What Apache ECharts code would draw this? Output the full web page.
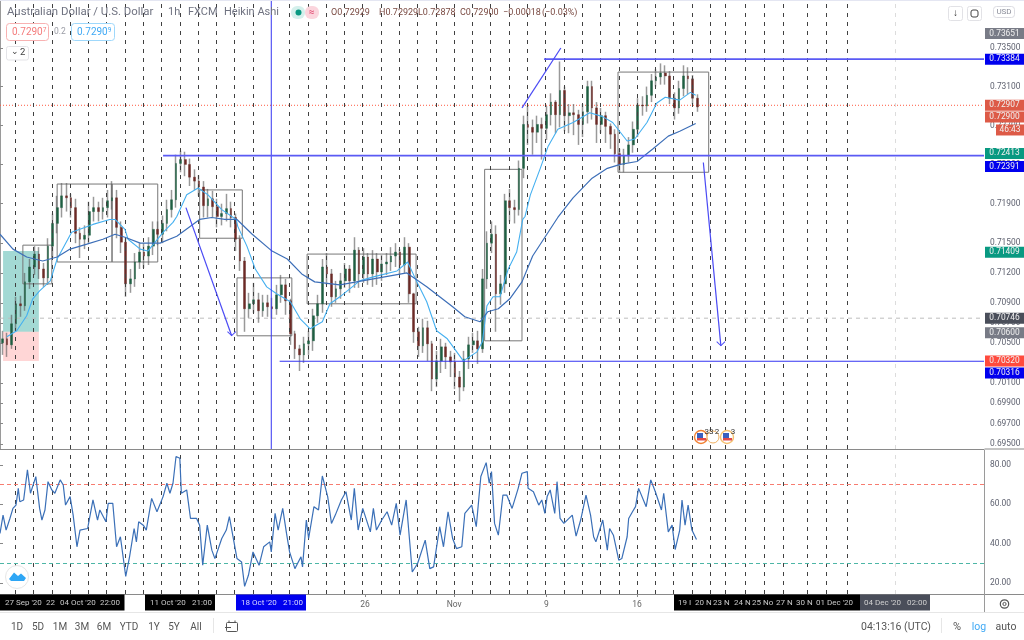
<!DOCTYPE html>
<html><head><meta charset="utf-8">
<style>html,body{margin:0;padding:0;background:#fff}#c{width:1024px;height:640px}</style>
<script src="https://cdn.jsdelivr.net/npm/echarts@6/dist/echarts.min.js"></script>
</head><body><div id="c"></div>
<script>
// ---------- price data: one candle per 6 hourly bars, in 1/10000 USD ----------
const closes=[7054,7048,7069,7089,7087,7111,7126,7139,7124,7115,7147,7170,7186,7198,7196,7186,7160,7154,7158,7182,7186,7182,7186,7193,7196,7166,7151,7109,7114,7131,7141,7137,7147,7164,7159,7170,7184,7194,7231,7235,7230,7217,7213,7207,7188,7195,7187,7177,7180,7185,7176,7154,7132,7084,7089,7093,7082,7090,7086,7084,7098,7108,7092,7059,7044,7038,7049,7052,7077,7089,7126,7119,7096,7104,7112,7124,7112,7143,7119,7136,7119,7134,7121,7129,7131,7137,7141,7128,7146,7099,7061,7047,7065,7049,7014,7032,7046,7036,7031,7016,7006,7034,7048,7052,7044,7114,7150,7159,7099,7109,7193,7186,7184,7226,7271,7268,7263,7271,7267,7281,7294,7281,7306,7280,7283,7281,7271,7284,7310,7288,7271,7280,7269,7261,7241,7230,7239,7250,7266,7291,7290,7301,7316,7320,7324,7321,7298,7288,7308,7321,7318,7298,7289];
const highs=[7062,7060,7078,7096,7097,7120,7134,7147,7146,7130,7155,7180,7198,7211,7211,7200,7195,7166,7168,7192,7197,7192,7196,7204,7213,7204,7172,7155,7124,7140,7150,7150,7156,7172,7172,7178,7194,7204,7240,7244,7243,7236,7225,7219,7213,7205,7203,7195,7190,7200,7192,7180,7158,7136,7100,7110,7100,7098,7098,7095,7108,7118,7114,7094,7062,7048,7056,7062,7084,7098,7134,7140,7124,7112,7120,7130,7128,7156,7146,7145,7140,7143,7140,7138,7140,7146,7150,7144,7156,7150,7100,7066,7074,7072,7052,7042,7054,7050,7042,7040,7022,7042,7056,7060,7062,7124,7162,7172,7168,7118,7200,7205,7194,7234,7280,7290,7276,7280,7278,7290,7303,7296,7336,7310,7292,7292,7286,7292,7316,7316,7294,7288,7284,7272,7266,7246,7246,7258,7274,7298,7300,7310,7323,7328,7334,7332,7326,7304,7316,7332,7330,7322,7302];
const lows=[7038,7036,7044,7062,7076,7082,7104,7118,7114,7106,7108,7136,7160,7176,7182,7176,7150,7135,7144,7150,7172,7172,7174,7176,7184,7155,7140,7096,7100,7106,7124,7125,7128,7138,7148,7150,7162,7176,7186,7222,7218,7208,7204,7198,7176,7176,7176,7166,7168,7172,7166,7142,7122,7061,7075,7080,7070,7076,7076,7074,7078,7090,7078,7048,7034,7022,7030,7038,7042,7070,7080,7108,7086,7090,7094,7105,7100,7105,7105,7110,7108,7106,7108,7112,7118,7122,7126,7118,7120,7090,7050,7036,7040,7032,7002,7006,7020,7024,7016,7004,6992,7002,7024,7040,7029,7040,7104,7140,7061,7088,7100,7172,7170,7178,7216,7250,7240,7252,7235,7255,7270,7262,7268,7264,7262,7260,7250,7258,7272,7276,7252,7262,7252,7246,7232,7222,7222,7232,7242,7258,7280,7284,7294,7310,7312,7312,7292,7276,7282,7300,7302,7292,7284];
const candleBars=6;

const fastBars=[9,22,35,43,52,66,75,94,122,144,151,164,168,184,194,214,227,232,245,260,273,291,310,312,324,335,350,363,381,394,407,423,433,446,472,490,521,535,547,560,573,587,608,626,633,639,647,656,667,678,686,689,696,709,719,732,752,774,791,804,823,833,849,862,873,892,906,913];
const fastVals=[7056,7062,7077,7094,7102,7112,7134,7161,7169,7174,7174,7164,7154,7144,7142,7161,7171,7177,7199,7206,7199,7184,7174,7167,7147,7124,7106,7099,7091,7074,7064,7071,7089,7096,7112,7116,7122,7131,7111,7091,7062,7054,7032,7041,7051,7087,7096,7096,7124,7141,7174,7177,7199,7226,7248,7266,7273,7283,7279,7273,7254,7256,7273,7293,7299,7296,7304,7301];
const slowBars=[0,17,35,56,75,92,114,135,151,164,184,210,232,262,278,295,311,331,357,377,396,413,446,490,534,560,594,610,630,640,654,669,685,699,732,752,777,797,814,836,857,877,892,913];
const slowVals=[7159,7144,7136,7132,7136,7144,7149,7154,7159,7156,7150,7150,7157,7174,7176,7174,7174,7159,7142,7134,7119,7111,7108,7114,7120,7106,7086,7076,7071,7081,7084,7094,7111,7137,7176,7196,7216,7226,7230,7233,7246,7259,7264,7272];

// ---------- RSI pane ----------
const rsiBars=[0,4,8,13,17,21,24,26,31,36,40,47,52,55,59,63,68,72,79,83,86,92,96,101,105,115,122,128,131,139,142,148,153,158,165,170,176,179,182,188,192,199,206,214,219,223,227,231,236,238,245,250,258,262,266,272,278,282,291,297,301,306,311,317,321,326,332,340,346,354,356,361,365,371,376,380,387,395,397,402,405,412,418,423,430,435,440,448,454,461,465,470,476,486,490,494,501,508,514,520,525,533,541,548,558,564,569,577,582,588,594,599,606,610,619,625,631,638,642,645,649,654,660,665,672,680,685,692,693,700,707,711,715,718,722,728,731,735,740,751,756,762,769,775,779,782,791,797,800,805,812,816,823,825,830,834,838,848,854,860,868,871,877,882,886,892,895,899,903,908,914];
const rsiVals=[45.2,54.5,46.9,52.8,57.9,59.6,68.1,61.3,62.2,77.5,65.6,74.1,57.9,52,57.1,71.5,67.3,65.6,72.4,69.8,59.6,63.9,54.5,38.4,46.9,47.7,62.2,52,57.1,51.1,60.5,60.5,38.4,43.5,23.4,33.3,47.7,40.9,51.1,49.4,46.9,63,56.2,63.9,70.7,65.6,70.7,84.3,83.4,65.6,67.3,52.8,52.8,49.4,29,49.4,36.7,32.4,42.6,46.9,53.7,43.1,32.4,30.7,18.3,23.9,35.8,29,38.4,40.9,35.8,55.4,46.9,57.9,45.2,35.8,27.3,33.3,28.2,52,42.6,58.8,57.1,74.4,63.9,50.3,54.5,62.2,66.4,52,68.1,46.9,57.9,46,57.9,46.9,52,56.2,49.4,60.5,44.3,62.2,25.6,29.9,41.8,27.3,28.2,48.6,38.4,56.2,42.6,37.5,38.4,55.4,59.6,48.6,74.1,81.2,70.7,76.6,50.3,44.3,64.7,64.7,57.9,68.1,75.8,76.6,68.1,66.4,59.6,62.2,55.4,63.9,67.3,55.4,71.5,52.8,50.3,54.5,43.8,52,64.7,54.5,43.5,40.9,52,36.7,47.7,44.3,31.6,32.4,43.5,52.8,56.2,58.8,68.1,58.8,72.4,66.4,57.1,65.6,46,49.4,37,46.9,62.2,49.4,59.6,46.9,42.1];
const rsiTicks=[20,40,60,80];
const rsiUpper=70, rsiLower=30;

// ---------- axes ----------
const priceTicks=[0.735,0.731,0.727,0.723,0.719,0.715,0.712,0.709,0.707,0.705,0.701,0.699,0.697,0.695];
const dayLineBars=[20,44,68,92,116,140,164,188,212,236,260,284,308,332,380,404,428,452,476,500,524,548,572,596,620,644,668,692,716,740,764,788,812,836,860,884,908,932,952,978,1003,1028,1059,1084,1112];
const fadedDayLineBar=1175, blueVLineBar=356;
const dateTickBars=[479,596,717,836];
const dateTickLabels=['26','Nov','9','16'];

// ---------- drawings: [bar1, price1, bar2, price2] ----------
const boxes=[[30,.7148,68,.7109],[75,.7210,147,.7131],[147,.7210,207,.7131],[262,.7204,318,.7155],[311,.7115,383,.7057],[403,.7139,546,.7089],[636,.7225,685,.7052],[811,.7325,930,.7222]];
const longProfit=[4,.7142,51,.7061], longLoss=[4,.7061,51,.7032];
const hLevels=[[214,.72391],[714,.73384],[367,.70316]];
const arrows=[[244,.7186,304,.7057],[923,.7232,946,.7047]];
const trendLines=[[685,.7288,736,.7350]];
const lastPrice=.72907, sessionPrice=.70746;

// ---------- price tags on the scale ----------
const tagLabels=['0.73651','0.73384','0.72907','0.72900','46:43','0.72413','0.72391','0.71409','0.70746','0.70600','0.70320','0.70316'];
const tagAnchors=[.73651,.73384,.72907,.72787,.72653,.72413,.7228,.71409,.70746,.706,.7032,.7020];
const tagColors=['#787b86','#0000ee','#dd5a47','#dd5a47','#dd5a47','#089981','#0000ee','#089981','#4a4e5a','#787b86','#ff4a3d','#0000ee'];

const axisMaxBar=1291.3;
const yMin=.6945,yMax=.74;
const xSpan={min:0,max:axisMaxBar};

const candleX=i=>i*candleBars+3;
const wickData=closes.map((c,i)=>{const o=i?closes[i-1]:c-4;return [candleX(i),o/1e4,c/1e4,Math.min(lows[i],o,c)/1e4,Math.max(highs[i],o,c)/1e4];});
const bodyData=closes.map((c,i)=>{const o=i?closes[i-1]:c-4;return [candleX(i),o/1e4,c/1e4,Math.min(o,c)/1e4,Math.max(o,c)/1e4];});
const toPairs=(b,v,k)=>b.map((x,i)=>[x,v[i]/k]);
const FONT='Roboto, "Noto Sans", sans-serif';
const dashColor='#404040';

const chart=echarts.init(document.getElementById('c'),null,{renderer:'canvas'});

const T=(x,y,text,fill,size,align,extra)=>({type:'text',x:x,y:y,silent:true,z:60,style:Object.assign({text:text,fill:fill,font:(size||10.5)+'px '+FONT,align:align||'left',verticalAlign:'middle'},extra||{})});
const R=(x,y,w,h,fill,stroke,r,z)=>({type:'rect',silent:true,z:z||49,shape:{x:x,y:y,width:w,height:h,r:r||0},style:{fill:fill||'none',stroke:stroke||'none',lineWidth:1}});
const L=(x1,y1,x2,y2,stroke,w,z)=>({type:'line',silent:true,z:z||48,shape:{x1:x1,y1:y1,x2:x2,y2:y2},style:{stroke:stroke,lineWidth:w||1}});
const C=(cx,cy,r,fill,stroke,w)=>({type:'circle',silent:true,z:51,shape:{cx:cx,cy:cy,r:r},style:{fill:fill||'none',stroke:stroke||'none',lineWidth:w||1}});

const chipText=(x,txt,sup,col)=>({type:'text',x:x,y:32,z:60,silent:true,style:{text:'{a|'+txt+'}{b|'+sup+'}',verticalAlign:'middle',rich:{a:{fill:col,font:'10px '+FONT},b:{fill:col,font:'6.5px '+FONT,verticalAlign:'top',padding:[0,0,4,0]}}}});

const graphics=[
 L(0,0.5,1024,0.5,'#e4e6f2',1),
 L(984.5,449,1024,449,'#8a8a8a',1),
 L(0,594.5,1024,594.5,'#8a8a8a',1),
 L(0,612.5,1024,612.5,'#e6e6e6',1),
 L(984.5,450,984.5,612,'#9a9a9a',1),
 // header
 T(7,12.5,'Australian Dollar / U.S. Dollar','#6f7280',11.4),
 T(168,12.5,'1h','#6f7280',11),T(188,12.5,'FXCM','#6f7280',11),T(224,12.5,'Heikin Ashi','#6f7280',11),
 R(291,6,14,13,'#d5f0ec','none',6),R(305,6,14,13,'#fbd5dd','none',6),
 C(298.5,12.5,3,'#089981'),T(311.5,12.5,'≈','#e0406a',10,'center'),
 T(331,13,'O0.72929','#7a4a42',9),T(379,13,'H0.72929','#7a4a42',9),T(418,13,'L0.72878','#7a4a42',9),T(460,13,'C0.72900','#7a4a42',9),T(503,13,'−0.00018','#7a4a42',9),T(542,13,'(−0.03%)','#7a4a42',9),
 R(6.5,23.5,42,17,'#fff','#f8b2b2',3),
 chipText(12,'0.7290','7','#f47c7c'),
 T(54,32,'0.2','#9a9ca5',8.5),
 R(71.5,23.5,43,17,'#fff','#9fd8fb',3),
 chipText(77,'0.7290','9','#3fa9f5'),
 R(6.5,46.5,22,13.5,'#fff','#e4e4e8',2),
 T(11,52,'⌄','#444',9),T(20,53,'2','#444',9.5),
 // top-right buttons
 R(948.5,6.5,14,14,'#fff','#e2e2e6',2),T(955.5,13.5,'↓','#333',10,'center'),
 R(967.5,6.5,14,14,'#fff','#e2e2e6',2),R(971,10,7,7,'none','#444',2),
 R(993.5,6.5,21,11,'#fff','#dcdce2',3),T(1004,12,'USD','#8a8d99',8,'center'),
 // date chips
 R(0,594.5,124.5,16,'#000'),R(145,594.5,70,16,'#000'),R(236,594.5,70,16,'#0000ee'),R(674,594.5,186,16,'#000'),R(860,594.5,70,16,'#4a4e5a'),
 T(5,603,"27 Sep '20",'#c8c8c8',8),T(46,603,'22','#c8c8c8',8),T(60,603,"04 Oct '20",'#c8c8c8',8),T(100,603,'22:00','#c8c8c8',8),
 T(150,603,"11 Oct '20",'#c8c8c8',8),T(192,603,'21:00','#c8c8c8',8),
 T(241,603,"18 Oct '20",'#d8d8ff',8),T(283,603,'21:00','#d8d8ff',8),
 T(678,603,'19 I','#c8c8c8',8),T(695,603,'20 N','#c8c8c8',8),T(713,603,'23 N','#c8c8c8',8),T(734,603,'24 N','#c8c8c8',8),T(752,603,'25 No','#c8c8c8',8),T(776,603,'27 N','#c8c8c8',8),T(796,603,'30 N','#c8c8c8',8),T(816,603,"01 Dec '20",'#c8c8c8',8),
 T(864,603,"04 Dec '20",'#d0d0d0',8),T(907,603,'02:00','#d0d0d0',8),
 // range toolbar
 T(17,627,'1D','#555',10,'center'),T(38,627,'5D','#555',10,'center'),T(60,627,'1M','#555',10,'center'),T(82,627,'3M','#555',10,'center'),T(104,627,'6M','#555',10,'center'),T(129,627,'YTD','#555',10,'center'),T(154,627,'1Y','#555',10,'center'),T(174,627,'5Y','#555',10,'center'),T(196,627,'All','#555',10,'center'),
 L(213.5,618,213.5,633,'#e6e6e6',1),
 R(226.5,622.5,11,9,'none','#555',1),L(229,620.5,229,623,'#555',1),L(235,620.5,235,623,'#555',1),L(225,627.5,231,627.5,'#555',1,52),
 T(896,627,'04:13:16 (UTC)','#555',10.5,'center'),L(941.5,618,941.5,633,'#e6e6e6',1),
 T(957,627,'%','#555',11,'center'),T(979,627,'log','#3fa9f5',10.5,'center'),T(1006,627,'auto','#555',10.5,'center'),
 // gear
 C(1004.5,604,4.2,'none','#555',1.2),C(1004.5,604,1.6,'none','#555',1),
 // logo
 C(17,577,11.5,'#fff','#e6e6e6',1),
 {type:'polygon',silent:true,z:52,shape:{points:[[9,579],[14,572.5],[18,576],[21,573.5],[26,578],[24,581],[11,581]]},style:{fill:'#2ea6f5'}},
 // event flags
 C(701,437,6.5,'#fff','#f08030',1.4),C(713,437,6,'#fff','#f0b060',1),C(727,437,6.5,'#fff','#f5c070',1.4),
 R(697,433,6,5,'#3a5fbf','none',0,53),R(697,438,9,2.5,'#e04a4a','none',0,53),R(723,433,6,5,'#3a5fbf','none',0,53),R(723,438,9,2.5,'#e04a4a','none',0,53),
 T(709,432,'33','#333',8,'center'),T(717,432,'2','#333',8,'center'),T(733,432,'3','#333',8,'center')
];

const straight=(name,pts,color,width,type,z)=>({name:name,type:'line',xAxisIndex:0,yAxisIndex:0,data:pts,showSymbol:false,symbol:'none',silent:true,z:z,lineStyle:{color:color,width:width,type:type||'solid'}});

const arrowHead='path://M-5,5 L0,0 L5,5 L4.3,5.7 L0,1.4 L-4.3,5.7Z';

const option={
 animation:false,backgroundColor:'#fff',
 grid:[{left:0,top:0,width:984,height:449},{left:0,top:450,width:984,height:144}],
 xAxis:[
  Object.assign({type:'value',gridIndex:0,splitLine:{show:false},axisTick:{show:false},axisLabel:{show:false},axisLine:{show:true,lineStyle:{color:'#8a8a8a'}}},xSpan),
  Object.assign({type:'value',gridIndex:1,splitLine:{show:false},axisLine:{show:false},
   axisTick:{show:true,customValues:dateTickBars,length:3,lineStyle:{color:'#888'}},
   axisLabel:{show:true,customValues:dateTickBars,margin:6,color:'#666',fontSize:8.5,fontFamily:FONT,formatter:v=>dateTickLabels[dateTickBars.indexOf(v)]||''}},xSpan)
 ],
 yAxis:[
  {type:'log',logBase:10,gridIndex:0,position:'right',min:yMin,max:yMax,splitLine:{show:false},
   axisLine:{show:true,lineStyle:{color:'#9a9a9a'}},
   axisTick:{show:true,customValues:priceTicks,length:3,lineStyle:{color:'#888'}},
   axisLabel:{show:true,customValues:priceTicks,margin:6,color:'#5f6270',fontSize:8.4,fontFamily:FONT,formatter:v=>(+v).toFixed(5)}},
  {type:'value',gridIndex:1,position:'right',min:14.4,max:87.6,splitLine:{show:false},
   axisLine:{show:false},
   axisTick:{show:true,customValues:rsiTicks,length:3,lineStyle:{color:'#888'}},
   axisLabel:{show:true,customValues:rsiTicks,margin:6,color:'#5f6270',fontSize:8.4,fontFamily:FONT,formatter:v=>(+v).toFixed(2)}}
 ],
 series:[
  {type:'line',xAxisIndex:0,yAxisIndex:0,data:[],silent:true,z:1,
   markArea:{silent:true,data:[
     [{coord:[longProfit[0],longProfit[1]],itemStyle:{color:'rgba(0,150,136,0.36)'}},{coord:[longProfit[2],longProfit[3]]}],
     [{coord:[longLoss[0],longLoss[1]],itemStyle:{color:'rgba(255,82,82,0.24)'}},{coord:[longLoss[2],longLoss[3]]}]
   ]}},
  {type:'line',xAxisIndex:0,yAxisIndex:0,data:[],silent:true,z:1,
   markLine:{silent:true,symbol:'none',animation:false,label:{show:false},lineStyle:{color:dashColor,type:[4,5],width:1},
    data:dayLineBars.map(b=>({xAxis:b})).concat([{xAxis:fadedDayLineBar,lineStyle:{color:'#dcdcdc',type:[4,5]}}])}},
  {type:'line',xAxisIndex:1,yAxisIndex:1,data:[],silent:true,z:1,
   markLine:{silent:true,symbol:'none',animation:false,label:{show:false},lineStyle:{color:dashColor,type:[4,5],width:1},
    data:dayLineBars.concat([blueVLineBar]).map(b=>({xAxis:b})).concat([
     {xAxis:fadedDayLineBar,lineStyle:{color:'#dcdcdc',type:[4,5]}},
     {yAxis:rsiUpper,lineStyle:{color:'#f77c70',type:[4,3]}},
     {yAxis:rsiLower,lineStyle:{color:'#4db6a6',type:[4,3]}}])}},
  {name:'wicks',type:'candlestick',xAxisIndex:0,yAxisIndex:0,data:wickData,barWidth:1,large:false,z:3,
   itemStyle:{color:'rgba(0,0,0,0)',color0:'rgba(0,0,0,0)',borderColor:'rgba(90,90,90,0.62)',borderColor0:'rgba(90,90,90,0.62)',borderWidth:1.5}},
  {name:'bodies',type:'candlestick',xAxisIndex:0,yAxisIndex:0,data:bodyData,barWidth:2.2,large:false,z:4,
   itemStyle:{color:'#1e5f42',color0:'#6c2a26',borderColor:'#1e5f42',borderColor0:'#6c2a26',borderWidth:0.4}},
  {name:'MA fast',type:'line',xAxisIndex:0,yAxisIndex:0,data:toPairs(fastBars,fastVals,1e4),showSymbol:false,symbol:'none',z:5,lineStyle:{color:'#45b0f0',width:1.1}},
  {name:'MA slow',type:'line',xAxisIndex:0,yAxisIndex:0,data:toPairs(slowBars,slowVals,1e4),showSymbol:false,symbol:'none',z:5,lineStyle:{color:'#3d6fb8',width:1.2}},
  {type:'line',xAxisIndex:0,yAxisIndex:0,data:[],silent:true,z:6,
   markArea:{silent:true,itemStyle:{color:'rgba(0,0,0,0)',borderColor:'#777',borderWidth:1},
    data:boxes.map(b=>[{coord:[b[0],b[1]]},{coord:[b[2],b[3]]}])}},
  straight('last price',[[0,lastPrice],[axisMaxBar,lastPrice]],'#ff5a40',1,[1,2],2),
  straight('session line',[[0,sessionPrice],[axisMaxBar,sessionPrice]],'#bdbdbd',1,[4,4],2),
  straight('blue vertical',[[blueVLineBar,yMin],[blueVLineBar,yMax]],'#3434f2',1,'solid',7),
  straight('level 1',[[hLevels[0][0],hLevels[0][1]],[axisMaxBar,hLevels[0][1]]],'#5a5af4',1.8,'solid',7),
  straight('level 2',[[hLevels[1][0],hLevels[1][1]],[axisMaxBar,hLevels[1][1]]],'#5a5af4',1.6,'solid',7),
  straight('level 3',[[hLevels[2][0],hLevels[2][1]],[axisMaxBar,hLevels[2][1]]],'#3434f2',1.1,'solid',7),
  straight('trend',[[trendLines[0][0],trendLines[0][1]],[trendLines[0][2],trendLines[0][3]]],'#4a4af4',1.2,'solid',7)
 ].concat(arrows.map((a,i)=>({name:'arrow '+i,type:'line',xAxisIndex:0,yAxisIndex:0,silent:true,z:7,showSymbol:false,symbol:'none',
     data:[[a[0],a[1]],[a[2],a[3]]],lineStyle:{color:'#4a4af4',width:1.2},
     markPoint:{silent:true,animation:false,symbol:arrowHead,symbolSize:[9,5],itemStyle:{color:'#4a4af4'},label:{show:false},
       data:[{coord:[a[2],a[3]],symbolRotate:180,symbolOffset:[0,-2]}]}})))
 .concat([
  {name:'RSI',type:'line',xAxisIndex:1,yAxisIndex:1,data:toPairs(rsiBars,rsiVals,1),showSymbol:false,symbol:'none',z:5,lineStyle:{color:'#3a6fb7',width:1.2}},
  {type:'custom',xAxisIndex:0,yAxisIndex:0,z:20,silent:true,clip:false,
   data:tagAnchors.map((p,i)=>[axisMaxBar,p,i]),
   renderItem:(params,api)=>{
     const i=api.value(2);const pt=api.coord([api.value(0),api.value(1)]);
     const short=tagLabels[i].length<6;
     const x=short?996:985,w=short?28:39,h=11;
     return {type:'group',children:[
       {type:'rect',shape:{x:x,y:pt[1]-h/2,width:w,height:h},style:{fill:tagColors[i]}},
       {type:'text',style:{x:short?1010:1004.5,y:pt[1],text:tagLabels[i],align:'center',verticalAlign:'middle',fill:'#f0f0f0',font:'8.4px '+FONT}}
     ]};
   }}
 ]),
 graphic:{elements:graphics}
};
chart.setOption(option);
</script></body></html>
